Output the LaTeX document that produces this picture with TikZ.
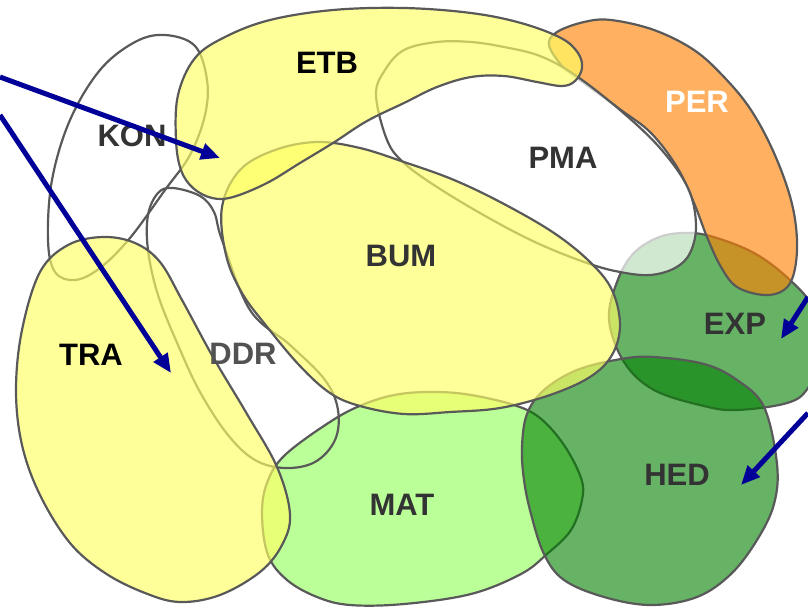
\documentclass[tikz,border=0pt]{standalone}
\usepackage{fontspec}
\setmainfont{Liberation Sans}
\usetikzlibrary{arrows.meta}

\definecolor{rim}{RGB}{89,89,89}
\definecolor{yel}{RGB}{255,255,100}
\definecolor{org}{RGB}{255,128,0}
\definecolor{grn}{RGB}{0,128,0}
\definecolor{lime}{RGB}{187,255,153}
\definecolor{ink}{RGB}{51,51,51}
\definecolor{navy}{RGB}{0,0,153}

\begin{document}
\begin{tikzpicture}[x=1pt, y=-1pt, >={Triangle[length=19pt,width=16pt]}]
    \tikzstyle{blob} = [draw=rim, line width=2.2pt]
    \tikzstyle{yblob} = [blob, fill=yel, fill opacity=0.66]
    \tikzstyle{gblob} = [blob, fill=grn, fill opacity=0.6]
    \tikzstyle{tag} = [font=\fontsize{31}{36}\selectfont\bfseries, text=ink, inner sep=0pt]
    \tikzstyle{arrowline} = [->, draw=navy, line width=5pt]

    \useasboundingbox (0,0) rectangle (808,614);
    \clip (0,0) rectangle (808,614);

    \begin{scope}[smooth cycle, tension=0.6]
        % MAT
        \draw[blob, fill=lime] plot coordinates {(400,394) (437,392) (471,395) (514,405) (540,418) (564,445) (581,478) (582,500) (571,530) (547,554) (521,574) (471,594) (404,604) (350,605) (317,597) (287,580) (268,555) (262,515) (267,483) (285,455) (333,420) (367,403)};
        % EXP
        \draw[gblob] plot coordinates {(609,320) (617,282) (633,254) (657,238) (682,233) (710,236) (754,253) (790,280) (815,310) (825,350) (808,388) (787,403) (737,410) (704,406) (654,390) (624,362)};
        % HED
        \draw[gblob] plot coordinates {(522,447) (527,414) (544,390) (577,370) (621,359) (654,357) (704,364) (737,380) (764,407) (777,464) (774,504) (757,540) (731,574) (697,597) (651,605) (604,597) (564,580) (544,554) (531,514) (524,480)};
        % PER
        \draw[blob, fill=org, fill opacity=0.62] plot coordinates {(549,45) (557,32) (584,22) (611,20) (654,30) (694,50) (724,77) (751,110) (774,153) (791,200) (797,240) (794,273) (784,290) (764,295) (737,287) (721,267) (707,237) (694,203) (677,167) (651,133) (621,110) (584,83) (563,67)};
        % PMA
        \draw[blob, fill=white, fill opacity=0.7] plot coordinates {(376,95) (385,70) (404,50) (437,42) (471,42) (504,47) (540,56) (575,75) (620,110) (660,148) (688,188) (696,225) (690,253) (675,268) (650,275) (620,272) (587,263) (537,243) (487,217) (437,187) (404,163) (387,140)};
        % DDR
        \draw[blob] plot coordinates {(173,188) (200,196) (214,212) (222,240) (250,310) (290,345) (325,380) (338,410) (335,440) (315,462) (285,468) (255,460) (228,435) (200,392) (178,345) (158,295) (148,250) (148,215) (158,193)};
        % KON
        \draw[blob] plot coordinates {(165,35) (195,46) (207,80) (205,115) (190,155) (165,190) (130,238) (100,268) (75,280) (55,272) (48,240) (52,180) (70,120) (100,70) (135,42)};
        % BUM
        \draw[yblob] plot coordinates {(222,207) (240,170) (275,150) (317,142) (360,148) (404,162) (454,180) (504,204) (554,233) (590,262) (612,290) (620,325) (612,355) (590,377) (550,395) (500,408) (450,412) (404,414) (360,406) (330,393) (300,366) (268,328) (242,293) (226,255)};
        % TRA
        \draw[yblob] plot coordinates {(103,237) (135,243) (160,262) (182,300) (213,357) (247,414) (277,467) (290,514) (282,545) (260,572) (220,595) (180,602) (145,593) (105,573) (70,543) (40,495) (22,445) (16,390) (22,330) (40,272) (68,245)};
        % ETB
        \draw[yblob] plot coordinates {(178,95) (195,58) (225,37) (270,20) (333,10) (404,8) (471,13) (521,23) (561,38) (578,53) (582,68) (575,81) (562,86) (537,82) (504,76) (471,77) (437,87) (404,103) (367,121) (333,143) (300,163) (267,183) (233,197) (212,198) (193,188) (181,170) (176,140)};
    \end{scope}

    \node[tag, text=black] (ETB) at (327,63) {ETB};
    \node[tag] (KON) at (132,136) {KON};
    \node[tag] (PMA) at (563,158) {PMA};
    \node[tag, text=white] (PER) at (697,102) {PER};
    \node[tag] (BUM) at (401,256) {BUM};
    \node[tag, text=black] (TRA) at (91,355) {TRA};
    \node[tag, text=ink!85] (DDR) at (243,354) {DDR};
    \node[tag] (MAT) at (402,505) {MAT};
    \node[tag] (EXP) at (735,324) {EXP};
    \node[tag] (HED) at (677,475) {HED};

    \coordinate (s1) at (0,77);
    \coordinate (t1) at (220,158);
    \coordinate (s2) at (0,115);
    \coordinate (t2) at (171,373);
    \coordinate (s3) at (808,297);
    \coordinate (t3) at (781,339);
    \coordinate (s4) at (808,413);
    \coordinate (t4) at (741,485);

    \draw[arrowline] (s1) -- (t1);
    \draw[arrowline] (s2) -- (t2);
    \draw[arrowline] (s3) -- (t3);
    \draw[arrowline] (s4) -- (t4);
\end{tikzpicture}
\end{document}
